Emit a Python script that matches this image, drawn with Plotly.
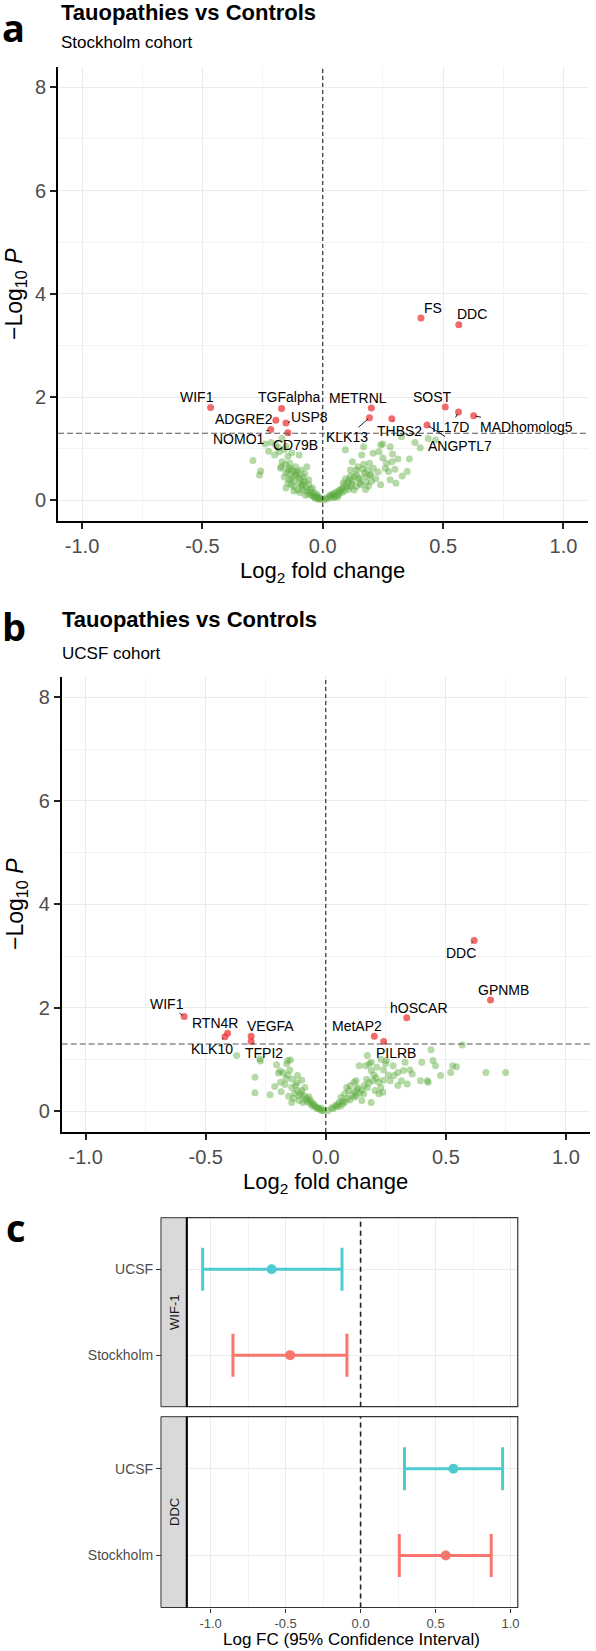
import plotly.graph_objects as go

W, H = 596, 1651
FONT = "Liberation Sans, Arial, sans-serif"

# ---------------- Panel a: Stockholm cohort ----------------
a_sig_genes = ["FS", "DDC", "WIF1", "TGFalpha", "ADGRE2", "USP8", "NOMO1", "CD79B",
               "METRNL", "KLK13", "THBS2", "SOST", "IL17D", "MADhomolog5", "ANGPTL7"]
a_sig_fc = [0.408, 0.565, -0.466, -0.171, -0.195, -0.153, -0.216, -0.145,
            0.202, 0.194, 0.287, 0.509, 0.564, 0.627, 0.433]
a_sig_p = [3.53, 3.40, 1.80, 1.78, 1.55, 1.50, 1.37, 1.31,
           1.79, 1.60, 1.58, 1.81, 1.71, 1.64, 1.46]

a_ns_fc = [-0.290, -0.258, -0.263, -0.239, -0.195, -0.181, -0.169, -0.173, -0.153, -0.145,
           -0.137, -0.129, -0.098, -0.121, -0.113, -0.153, -0.145, -0.129, -0.105, -0.090,
           -0.082, -0.074, -0.058, -0.066, -0.098, -0.153, -0.121, -0.050, -0.035, -0.027,
           -0.019, -0.011, -0.043, -0.082, -0.058, -0.113, -0.185, -0.169, -0.160, -0.140,
           -0.120, -0.100, -0.090, -0.080, -0.070, -0.065, -0.060, -0.050, -0.045, -0.040,
           -0.035, -0.030, -0.025, -0.020, -0.015, -0.008, -0.130, -0.110, -0.095, -0.085,
           -0.075, -0.160, -0.140, -0.130, -0.120, -0.175, -0.155, -0.145, -0.200, -0.215,
           -0.225, -0.105, -0.095, -0.072, -0.135,
           0.005, 0.013, 0.028, 0.044, 0.060, 0.076, 0.083, 0.091, 0.094, 0.123,
           0.115, 0.131, 0.139, 0.146, 0.154, 0.162, 0.170, 0.173, 0.178, 0.186,
           0.194, 0.202, 0.209, 0.233, 0.241, 0.249, 0.265, 0.273, 0.288, 0.304,
           0.312, 0.351, 0.327, 0.383, 0.438, 0.469, 0.280, 0.107, 0.115, 0.068,
           0.052, 0.139, 0.154, 0.178, 0.020, 0.035, 0.040, 0.050, 0.065, 0.070,
           0.080, 0.090, 0.100, 0.105, 0.110, 0.120, 0.125, 0.130, 0.140, 0.150,
           0.160, 0.165, 0.180, 0.190, 0.200, 0.210, 0.220, 0.230, 0.250, 0.260,
           0.240, 0.290, 0.300, 0.030, 0.045, 0.060, 0.085, 0.095, 0.115, 0.170,
           0.195, 0.405, 0.330, 0.360, 0.280]
a_ns_p = [0.77, 0.57, 0.49, 1.09, 1.07, 0.94, 0.75, 0.65, 1.05, 0.85,
          0.72, 0.92, 0.88, 0.56, 0.49, 0.53, 0.33, 0.43, 0.56, 0.59,
          0.46, 0.37, 0.30, 0.65, 0.33, 0.24, 0.27, 0.21, 0.14, 0.08,
          0.05, 0.03, 0.24, 0.21, 0.40, 0.65, 1.02, 1.20, 0.98, 0.62,
          0.38, 0.45, 0.28, 0.35, 0.25, 0.18, 0.12, 0.15, 0.10, 0.08,
          0.06, 0.04, 0.12, 0.02, 0.06, 0.02, 0.60, 0.52, 0.42, 0.30,
          0.52, 0.45, 0.40, 0.30, 0.18, 0.62, 0.70, 0.58, 0.88, 1.12,
          0.95, 0.20, 0.15, 0.10, 0.50,
          0.01, 0.04, 0.08, 0.11, 0.17, 0.21, 0.24, 0.30, 0.98, 0.75,
          0.59, 0.46, 0.59, 0.65, 0.33, 0.88, 1.04, 0.53, 0.46, 0.59,
          0.72, 0.37, 0.91, 0.94, 1.07, 1.09, 0.72, 0.56, 0.75, 0.33,
          0.80, 0.56, 1.23, 1.12, 1.20, 1.17, 1.04, 0.21, 0.27, 0.14,
          0.08, 0.27, 0.40, 0.21, 0.03, 0.06, 0.12, 0.14, 0.10, 0.20,
          0.15, 0.18, 0.26, 0.35, 0.40, 0.32, 0.38, 0.20, 0.50, 0.44,
          0.30, 0.60, 0.35, 0.28, 0.50, 0.62, 0.42, 0.55, 0.82, 0.62,
          0.30, 0.90, 0.60, 0.10, 0.05, 0.06, 0.34, 0.42, 0.47, 0.70,
          0.48, 1.02, 0.47, 0.80, 0.40]

# ---------------- Panel b: UCSF cohort ----------------
b_sig_genes = ["DDC", "GPNMB", "hOSCAR", "MetAP2", "PILRB",
               "WIF1", "RTN4R", "KLK10", "VEGFA", "TFPI2"]
b_sig_fc = [0.618, 0.686, 0.337, 0.202, 0.241, -0.590, -0.409, -0.420, -0.311, -0.311]
b_sig_p = [3.30, 2.15, 1.81, 1.45, 1.35, 1.83, 1.51, 1.44, 1.45, 1.35]

b_ns_fc = [-0.371, -0.275, -0.272, -0.295, -0.295, -0.232, -0.205, -0.197, -0.186, -0.163,
           -0.158, -0.147, -0.158, -0.177, -0.166, -0.142, -0.118, -0.213, -0.189, -0.155,
           -0.134, -0.118, -0.103, -0.095, -0.079, -0.111, -0.063, -0.047, -0.032, -0.016,
           -0.066, -0.087, -0.126, -0.142, -0.120, -0.100, -0.090, -0.085, -0.075, -0.070,
           -0.060, -0.055, -0.050, -0.040, -0.035, -0.025, -0.020, -0.010, -0.130, -0.110,
           -0.140, -0.170, -0.150, -0.100, -0.190,
           0.008, 0.024, 0.039, 0.055, 0.063, 0.079, 0.087, 0.095, 0.102, 0.118,
           0.126, 0.134, 0.139, 0.150, 0.158, 0.166, 0.173, 0.181, 0.189, 0.197,
           0.205, 0.213, 0.221, 0.229, 0.237, 0.249, 0.252, 0.268, 0.284, 0.300,
           0.315, 0.323, 0.339, 0.394, 0.423, 0.426, 0.438, 0.446, 0.457, 0.478,
           0.528, 0.544, 0.568, 0.667, 0.749, 0.189, 0.150, 0.118, 0.071, 0.221,
           0.173, 0.126, 0.030, 0.045, 0.050, 0.060, 0.070, 0.080, 0.090, 0.100,
           0.110, 0.120, 0.130, 0.140, 0.160, 0.170, 0.180, 0.200, 0.210, 0.240,
           0.260, 0.190, 0.230, 0.280, 0.300, 0.350, 0.360, 0.330, 0.400, 0.520,
           0.240]
b_ns_p = [1.08, 1.01, 0.97, 0.66, 0.36, 0.32, 0.90, 0.74, 0.38, 0.92,
          0.98, 0.99, 0.70, 0.74, 0.63, 0.46, 0.69, 0.48, 0.56, 0.29,
          0.25, 0.40, 0.34, 0.17, 0.25, 0.21, 0.14, 0.11, 0.07, 0.01,
          0.22, 0.46, 0.50, 0.17, 0.55, 0.40, 0.30, 0.22, 0.18, 0.28,
          0.18, 0.10, 0.14, 0.08, 0.05, 0.04, 0.06, 0.02, 0.35, 0.30,
          0.62, 0.52, 0.80, 0.60, 0.78,
          0.01, 0.07, 0.11, 0.17, 0.27, 0.34, 0.46, 0.40, 0.50, 0.56,
          0.59, 0.46, 0.88, 0.40, 0.34, 0.88, 1.08, 0.92, 0.79, 0.59,
          0.40, 0.85, 0.56, 0.46, 0.37, 0.92, 0.98, 0.59, 0.69, 0.75,
          0.59, 0.79, 0.53, 0.59, 0.59, 0.56, 1.19, 0.98, 0.88, 0.69,
          0.88, 0.86, 1.28, 0.75, 0.75, 0.17, 0.21, 0.27, 0.14, 0.34,
          0.46, 0.30, 0.05, 0.09, 0.13, 0.10, 0.20, 0.18, 0.25, 0.22,
          0.32, 0.38, 0.42, 0.35, 0.50, 0.62, 0.55, 0.70, 0.65, 0.80,
          0.70, 0.95, 1.00, 0.88, 0.50, 0.80, 0.72, 0.95, 0.95, 0.75,
          0.60]

# ---------------- Panel c: confidence intervals ----------------
ci_proteins = ["WIF-1", "DDC"]
ci_cohorts = ["Stockholm", "UCSF"]
ci_est = {"WIF-1": [-0.470, -0.593], "DDC": [0.568, 0.619]}
ci_low = {"WIF-1": [-0.851, -1.053], "DDC": [0.258, 0.293]}
ci_high = {"WIF-1": [-0.091, -0.124], "DDC": [0.871, 0.947]}

# label offsets (pixels) for gene labels -- styling only
a_offsets = {"FS": (12, -10), "DDC": (13, -11), "WIF1": (-14, -10), "TGFalpha": (7, -11),
             "ADGRE2": (-32, -1), "USP8": (24, -6), "NOMO1": (-32, 9), "CD79B": (8, 12),
             "METRNL": (-13, -10), "KLK13": (-22, 19), "THBS2": (8, 12), "SOST": (-13, -10),
             "IL17D": (-8, 15), "MADhomolog5": (53, 11), "ANGPTL7": (33, 21)}
b_offsets = {"DDC": (-13, 12), "GPNMB": (13, -10), "hOSCAR": (12, -10), "MetAP2": (-17, -10),
             "PILRB": (12, 12), "WIF1": (-17, -13), "RTN4R": (-13, -10), "KLK10": (-13, 12),
             "VEGFA": (19, -10), "TFPI2": (13, 12)}

GREEN = "rgba(90,170,60,0.45)"
RED = "rgba(237,50,50,0.72)"
C_UCSF = "#4DCCD0"
C_STH = "#F8766D"
GRID = "#EBEBEB"
MINOR = "#F3F3F3"
TICKC = "#4D4D4D"


def px_x(p):
    return p / W


def px_y(p):
    return 1 - p / H


fig = go.Figure()

# volcano traces
for ax_id, ns_fc, ns_p, sig_fc, sig_p in [("", a_ns_fc, a_ns_p, a_sig_fc, a_sig_p),
                                           ("2", b_ns_fc, b_ns_p, b_sig_fc, b_sig_p)]:
    fig.add_trace(go.Scatter(x=ns_fc, y=ns_p, mode="markers", xaxis="x" + ax_id, yaxis="y" + ax_id,
                             marker=dict(size=7, color=GREEN, line=dict(width=0)),
                             showlegend=False, hoverinfo="skip"))
    fig.add_trace(go.Scatter(x=sig_fc, y=sig_p, mode="markers", xaxis="x" + ax_id, yaxis="y" + ax_id,
                             marker=dict(size=7, color=RED, line=dict(width=0)),
                             showlegend=False, hoverinfo="skip"))

# CI traces
cohort_pos = {c: i + 1 for i, c in enumerate(ci_cohorts)}
cohort_col = {"Stockholm": C_STH, "UCSF": C_UCSF}
for k, prot in enumerate(ci_proteins):
    xa = "x3" if k == 0 else "x4"
    ya = "y3" if k == 0 else "y4"
    for j, coh in enumerate(ci_cohorts):
        est = ci_est[prot][j]
        fig.add_trace(go.Scatter(
            x=[est], y=[cohort_pos[coh]], mode="markers", xaxis=xa, yaxis=ya,
            marker=dict(size=10, color=cohort_col[coh]),
            error_x=dict(type="data", symmetric=False,
                         array=[ci_high[prot][j] - est], arrayminus=[est - ci_low[prot][j]],
                         color=cohort_col[coh], thickness=3, width=21.5),
            showlegend=False, hoverinfo="skip"))

vol_x = dict(range=[-1.1, 1.1], tickvals=[-1, -0.5, 0, 0.5, 1],
             ticktext=["-1.0", "-0.5", "0.0", "0.5", "1.0"],
             showline=True, linecolor="black", linewidth=1.8, ticks="outside", ticklen=6,
             tickwidth=1.6, tickcolor="#222", tickfont=dict(size=20, color=TICKC, family=FONT),
             showgrid=True, gridcolor=GRID, gridwidth=1, zeroline=False,
             minor=dict(dtick=0.25, tick0=0, showgrid=True, gridcolor=MINOR, gridwidth=1, ticks=""))
vol_y = dict(range=[-0.4, 8.4], tickvals=[0, 2, 4, 6, 8],
             showline=True, linecolor="black", linewidth=1.8, ticks="outside", ticklen=6,
             tickwidth=1.6, tickcolor="#222", tickfont=dict(size=20, color=TICKC, family=FONT),
             showgrid=True, gridcolor=GRID, gridwidth=1, zeroline=False,
             minor=dict(dtick=1, tick0=1, showgrid=True, gridcolor=MINOR, gridwidth=1, ticks=""))

c_x = dict(range=[-1.159, 1.048], domain=[px_x(187.4), px_x(519.5)],
           tickvals=[-1, -0.5, 0, 0.5, 1], ticktext=["-1.0", "-0.5", "0.0", "0.5", "1.0"],
           showline=False, zeroline=False, showgrid=True, gridcolor=GRID, gridwidth=1,
           minor=dict(dtick=0.25, tick0=0, showgrid=True, gridcolor=MINOR, gridwidth=1, ticks=""),
           tickfont=dict(size=13, color=TICKC, family=FONT))
c_y = dict(range=[0.4, 2.6], tickvals=[cohort_pos[c] for c in ci_cohorts], ticktext=ci_cohorts,
           anchor="free", position=px_x(161.5), showline=False, zeroline=False,
           showgrid=True, gridcolor=GRID, gridwidth=1, ticks="outside", ticklen=5,
           tickwidth=1.2, tickcolor="#333", tickfont=dict(size=14, color=TICKC, family=FONT))

fig.update_layout(
    width=W, height=H, margin=dict(l=0, r=0, t=0, b=0),
    paper_bgcolor="white", plot_bgcolor="white",
    font=dict(family=FONT, color="black"),
    xaxis=dict(vol_x, domain=[px_x(58.2), px_x(589.5)], anchor="y"),
    yaxis=dict(vol_y, domain=[px_y(521), px_y(66.7)], anchor="x"),
    xaxis2=dict(vol_x, domain=[px_x(61.9), px_x(591.9)], anchor="y2"),
    yaxis2=dict(vol_y, domain=[px_y(1132), px_y(676.7)], anchor="x2"),
    xaxis3=dict(c_x, anchor="y3", showticklabels=False, ticks=""),
    yaxis3=dict(c_y, domain=[px_y(1406.7), px_y(1217.7)]),
    xaxis4=dict(c_x, anchor="y4", ticks="outside", ticklen=4, tickcolor="#333", tickwidth=1.2),
    yaxis4=dict(c_y, domain=[px_y(1607.5), px_y(1416.7)]),
)

shapes = []
# volcano dashed lines
for xa, ya in [("x", "y"), ("x2", "y2")]:
    shapes.append(dict(type="line", xref=xa, yref=ya + " domain", x0=0, x1=0, y0=0, y1=1,
                       line=dict(color="#222", width=1.1, dash="4px,3px")))
    shapes.append(dict(type="line", xref=xa + " domain", yref=ya, x0=0, x1=1, y0=1.301, y1=1.301,
                       line=dict(color="#555", width=1.1, dash="6px,3px")))
# CI facets: strips, borders, zero lines
for ya, top, bot, in [("y3", 1217.7, 1406.7), ("y4", 1416.7, 1607.5)]:
    shapes.append(dict(type="rect", xref="paper", yref="paper", x0=px_x(161.5), x1=px_x(187.4),
                       y0=px_y(bot), y1=px_y(top), fillcolor="#D9D9D9",
                       line=dict(color="#333", width=1), layer="below"))
    shapes.append(dict(type="rect", xref="paper", yref="paper", x0=px_x(187.4), x1=px_x(519.5),
                       y0=px_y(bot), y1=px_y(top), line=dict(color="#333", width=1.2)))
    shapes.append(dict(type="line", xref="paper", yref="paper", x0=px_x(187.4), x1=px_x(187.4),
                       y0=px_y(bot), y1=px_y(top), line=dict(color="black", width=2)))
    xa = "x3" if ya == "y3" else "x4"
    shapes.append(dict(type="line", xref=xa, yref=ya + " domain", x0=0, x1=0, y0=0, y1=1,
                       line=dict(color="#222", width=1.6, dash="5px,4px")))
fig.update_layout(shapes=shapes)

ann = []
# gene labels
for xa, ya, genes, fcs, ps, offs in [("x", "y", a_sig_genes, a_sig_fc, a_sig_p, a_offsets),
                                     ("x2", "y2", b_sig_genes, b_sig_fc, b_sig_p, b_offsets)]:
    for g, fx, py in zip(genes, fcs, ps):
        dx, dy = offs[g]
        ann.append(dict(x=fx, y=py, xref=xa, yref=ya, text=g, showarrow=True, ax=dx, ay=dy,
                        arrowhead=0, arrowwidth=0.9, arrowcolor="black", standoff=2,
                        font=dict(size=14, color="black", family=FONT)))


def paper_text(text, x, y, size, xanchor="center", yanchor="middle", angle=0, bold=False,
               color="black", family=FONT):
    return dict(text=("<b>%s</b>" % text) if bold else text, x=px_x(x), y=px_y(y),
                xref="paper", yref="paper", showarrow=False, xanchor=xanchor, yanchor=yanchor,
                textangle=angle, font=dict(size=size, color=color, family=family))


PANEL_FONT = "Open Sans, DejaVu Sans, sans-serif"
ann += [
    paper_text("a", 14, 27, 38, bold=True, family=PANEL_FONT),
    paper_text("b", 14, 626, 38, bold=True, family=PANEL_FONT),
    paper_text("c", 16, 1227, 38, bold=True, family=PANEL_FONT),
    paper_text("Tauopathies vs Controls", 59, 13, 22, xanchor="left", bold=True),
    paper_text("Stockholm cohort", 59, 43, 17, xanchor="left"),
    paper_text("Tauopathies vs Controls", 60, 620, 22, xanchor="left", bold=True),
    paper_text("UCSF cohort", 60, 653, 17, xanchor="left"),
    paper_text("Log<sub>2</sub> fold change", 324, 572, 22),
    paper_text("Log<sub>2</sub> fold change", 327, 1183, 22),
    paper_text("\u2212Log<sub>10</sub> <i>P</i>", 16, 294, 23, angle=-90),
    paper_text("\u2212Log<sub>10</sub> <i>P</i>", 16, 904, 23, angle=-90),
    paper_text("Log FC (95% Confidence Interval)", 353, 1639, 17),
    paper_text("WIF-1", 174.5, 1312, 13, angle=-90, color="#1A1A1A"),
    paper_text("DDC", 174.5, 1512, 13, angle=-90, color="#1A1A1A"),
]
fig.update_layout(annotations=ann)

fig.write_html("out.html", config={"displayModeBar": False},
               post_script="document.body.style.margin='0px';")
